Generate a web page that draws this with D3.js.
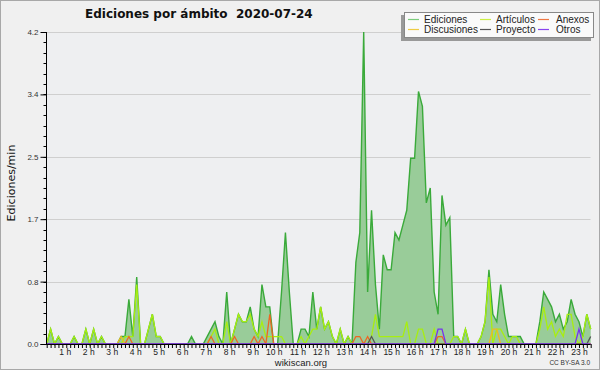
<!DOCTYPE html>
<html><head><meta charset="utf-8">
<script src="https://cdn.jsdelivr.net/npm/d3@7"></script>
<style>body{margin:0;background:#f0f0f0}svg{display:block}</style>
</head><body><svg id="c" width="600" height="370"></svg>
<script>
// 10-minute slots from 00:00 to 23:10, edits per minute
const slots = d3.range(140);
const ediciones = [
0,0.2,0,0.1,0,0,0,0.1,0,0,
0.2,0,0.2,0,0.1,0,0,0,0,0.1,
0.1,0.6,0.1,0.9,0,0,0.2,0.4,0.1,0.1,
0,0,0,0,0,0,0,0.1,0,0,
0,0.1,0.2,0.3,0.1,0,0.7,0,0.2,0.4,
0.3,0.3,0.5,0.2,0.1,0.8,0.5,0.5,0,0,
0.7,1.5,0.7,0,0,0.2,0.2,0.1,0.7,0.2,
0.5,0.2,0.3,0.1,0,0.2,0,0.1,0,1.1,
1.5,4.2,0.7,1.8,0.8,0.2,1.2,1.0,1.0,1.5,
1.4,1.6,1.8,2.5,2.5,3.4,3.2,1.9,2.1,0.7,
0.4,2.0,1.6,1.7,0.1,0.1,0,0.2,0,0,
0,0.1,0.3,1.0,0.4,0.3,0.8,0.4,0.1,0.1,
0.1,0.1,0,0,0,0,0.3,0.7,0.6,0.5,
0.3,0.4,0.2,0.3,0.6,0.4,0.3,0.1,0.4,0.2];
const articulos = [
0,0.2,0,0.1,0,0,0,0.1,0,0,
0.2,0,0.2,0,0.1,0,0,0,0,0,
0.1,0.1,0.1,0.8,0,0,0.2,0.4,0.1,0.1,
0,0,0,0,0,0,0,0,0,0,
0,0,0.1,0.2,0,0,0.3,0,0.2,0.4,
0.3,0.3,0.4,0.2,0.1,0.3,0.1,0.1,0.1,0.1,
0.1,0,0,0,0,0.1,0,0.1,0.2,0.2,
0.5,0.2,0.3,0.1,0,0.2,0,0.1,0,0,
0,0,0,0.1,0.4,0.1,0.1,0.1,0.1,0.1,
0.1,0.1,0.3,0,0,0.2,0.2,0,0,0.2,
0,0,0,0,0.1,0.1,0,0.2,0,0,
0,0.1,0.3,0.9,0,0.2,0.2,0.1,0,0.1,
0.1,0,0,0,0,0,0.2,0.5,0.2,0.3,
0.1,0.2,0.1,0.4,0.4,0.1,0,0.1,0.4,0.2];
const anexos = slots.map(()=>0);
const discusiones = slots.map(()=>0);
const proyecto = slots.map(()=>0);
const otros = slots.map(()=>0);
[[21,0.1],[42,0.1],[48,0.1],[53,0.1],[55,0.1],[57,0.4],[79,0.1],[80,0.1],[82,0.1],[100,0.1],[101,0.1]].forEach(([i,v])=>anexos[i]=v);
[[19,0.1],[114,0.2],[115,0.2]].forEach(([i,v])=>discusiones[i]=v);
[[83,0.1],[139,0.1]].forEach(([i,v])=>proyecto[i]=v);
[[100,0.2],[101,0.2],[136,0.2]].forEach(([i,v])=>otros[i]=v);

const hourLabels = d3.range(1,24).map(h=>h+" h");
const yTicks = [0,0.84,1.68,2.52,3.36,4.2];
const legendNames = ["Ediciones","Artículos","Anexos","Discusiones","Proyecto","Otros"];
const legendColors = ["#7ccc7c","#ccee44","#ee7744","#eecc44","#555555","#8844ee"];

const svg = d3.select("#c");
const L=46.5, R=590.5, T=32, B=344;
svg.append("rect").attr("x",0.5).attr("y",0.5).attr("width",599).attr("height",369)
  .attr("fill","#f0f0f0").attr("stroke","#a8a8a8");
svg.append("rect").attr("x",L).attr("y",T).attr("width",R-L).attr("height",B-T).attr("fill","#eeeff1");

const x = d3.scaleLinear().domain([0,139]).range([L+0.2,R+0.2]);
const y = d3.scaleLinear().domain([0,4.2]).range([B,T]);

// grid
svg.append("g").selectAll("line").data(yTicks.slice(1)).join("line")
  .attr("x1",L).attr("x2",R).attr("y1",d=>Math.round(y(d))+0.5).attr("y2",d=>Math.round(y(d))+0.5)
  .attr("stroke","#cfcfcf").attr("stroke-width",1);

const area = d3.area().x((d,i)=>x(i)).y0(y(0)).y1(d=>y(d));
const line = d3.line().x((d,i)=>x(i)).y(d=>y(d));
svg.append("path").datum(ediciones).attr("d",area).attr("fill","#99cc99");
svg.append("path").datum(ediciones).attr("d",line).attr("fill","none").attr("stroke","#3aaa3a").attr("stroke-width",1.4);
const series = [[articulos,"#a8ee10"],[anexos,"#ee6622"],[discusiones,"#eebb22"],[proyecto,"#555555"],[otros,"#7733ee"]];
series.forEach(([s,c])=>{
  svg.append("path").datum(s).attr("d",line).attr("fill","none").attr("stroke",c).attr("stroke-width",1.3);
});

// axes
const yAxis = d3.axisLeft(y).tickValues(yTicks).tickFormat(d=>d.toFixed(1)).tickSize(6).tickPadding(2);
const gy = svg.append("g").attr("transform",`translate(${L},0)`).call(yAxis);
gy.select(".domain").remove();
gy.selectAll("text").attr("font-family","Liberation Sans").attr("font-size",8).attr("fill","#333");
const yMinor = d3.range(0,4.2001,0.14);
svg.append("g").selectAll("line").data(yMinor).join("line")
  .attr("x1",L-3).attr("x2",L).attr("y1",d=>Math.round(y(d))+0.5).attr("y2",d=>Math.round(y(d))+0.5).attr("stroke","#000");
svg.append("line").attr("x1",L).attr("x2",L).attr("y1",T).attr("y2",B).attr("stroke","#000");

const xAxis = d3.axisBottom(x).tickValues(d3.range(0,140)).tickFormat("").tickSize(4);
const gx = svg.append("g").attr("transform",`translate(0,${B})`).call(xAxis);
gx.select(".domain").remove();
svg.append("line").attr("x1",L-6).attr("x2",R).attr("y1",B+0.5).attr("y2",B+0.5).attr("stroke","#000");
svg.append("g").selectAll("text").data(hourLabels).join("text")
  .attr("x",(d,i)=>x((i+1)*6)+1).attr("y",355).attr("text-anchor","end")
  .attr("font-family","Liberation Sans").attr("font-size",8.5).attr("fill","#222").text(d=>d);

// titles
svg.append("text").attr("x",85).attr("y",18).attr("font-family","DejaVu Sans").attr("font-weight","bold")
  .attr("font-size",12).attr("fill","#111").text("Ediciones por ámbito\u00a0\u00a02020-07-24");
svg.append("text").attr("transform","translate(15,183) rotate(-90)").attr("text-anchor","middle")
  .attr("font-family","DejaVu Sans").attr("font-size",11).attr("fill","#111").text("Ediciones/min");
svg.append("text").attr("x",301).attr("y",365.5).attr("text-anchor","middle")
  .attr("font-family","Liberation Sans").attr("font-size",9.5).attr("fill","#222").text("wikiscan.org");
svg.append("text").attr("x",590).attr("y",365).attr("text-anchor","end")
  .attr("font-family","Liberation Sans").attr("font-size",6.5).attr("fill","#333").text("CC BY-SA 3.0");

// legend
const lg = svg.append("g");
lg.append("rect").attr("x",401).attr("y",15).attr("width",190).attr("height",26).attr("fill","#999");
lg.append("rect").attr("x",404.5).attr("y",12.5).attr("width",189).attr("height",25).attr("fill","#fafafa").attr("stroke","#888");
const colX = [408,480,538], textX=[424,496,556], rowY=[19.5,29.5];
legendNames.forEach((n,k)=>{
  const c=k%3, r=Math.floor(k/3);
  lg.append("line").attr("x1",colX[c]).attr("x2",colX[c]+11).attr("y1",rowY[r]).attr("y2",rowY[r]).attr("stroke",legendColors[k]).attr("stroke-width",1.2);
  lg.append("text").attr("x",textX[c]).attr("y",rowY[r]+3.5).attr("font-family","Liberation Sans").attr("font-size",10).attr("fill","#222").text(n);
});
</script></body></html>
